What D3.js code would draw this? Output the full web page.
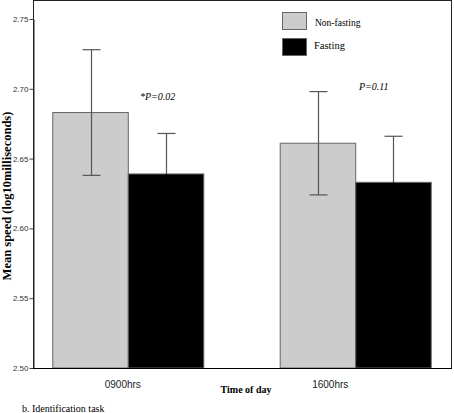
<!DOCTYPE html>
<html><head><meta charset="utf-8">
<script src="https://cdn.jsdelivr.net/npm/d3@7"></script>
<style>body{margin:0;background:#fff}svg{display:block}
.serif{font-family:"Liberation Serif","Times New Roman",serif}
.sans{font-family:"Liberation Sans",Arial,sans-serif}
</style>
</head><body>
<svg id="c" width="454" height="413"></svg>
<script>
const categories = ["0900hrs", "1600hrs"];
const seriesNames = ["Non-fasting", "Fasting"];
const nonFasting = [2.683, 2.661];
const nonFastingErr = [0.045, 0.037];
const fasting = [2.639, 2.633];
const fastingErr = [0.029, 0.033];
const yTicks = [2.50, 2.55, 2.60, 2.65, 2.70, 2.75];
const pLabels = ["*P=0.02", "P=0.11"];

(function(){
const svg = d3.select("#c");
const mLeft = 33, mRight = 451, mTop = 0, mBottom = 368;
const y = d3.scaleLinear().domain([2.5, 2.75]).range([mBottom, 19]);
const x = d3.scaleBand().domain(categories).range([mLeft, mRight]).paddingInner(0.336).paddingOuter(0.087);
const xs = d3.scaleBand().domain(seriesNames).range([0, x.bandwidth()]);
const colors = {"Non-fasting": "#cccccc", "Fasting": "#000000"};
const labelShift = {"0900hrs": -5.5, "1600hrs": -25.5};

const data = [];
categories.forEach((c, i) => {
  data.push({cat: c, s: "Non-fasting", v: nonFasting[i], e: nonFastingErr[i]});
  data.push({cat: c, s: "Fasting", v: fasting[i], e: fastingErr[i]});
});

// frame
svg.append("rect").attr("x", mLeft + 0.5).attr("y", mTop + 0.5)
  .attr("width", mRight - mLeft).attr("height", mBottom - mTop)
  .attr("fill", "none").attr("stroke", "#222").attr("stroke-width", 1);

// bars
svg.selectAll("rect.bar").data(data).join("rect").attr("class", "bar")
  .attr("x", d => x(d.cat) + xs(d.s))
  .attr("y", d => y(d.v))
  .attr("width", xs.bandwidth())
  .attr("height", d => y(2.5) - y(d.v))
  .attr("fill", d => colors[d.s])
  .attr("stroke", "#666").attr("stroke-width", 1);

// error bars
const eg = svg.append("g").attr("stroke-width", 1.2);
data.forEach(d => {
  const cx = Math.round(x(d.cat) + xs(d.s) + xs.bandwidth() / 2) + 0.5;
  const col = "#555";
  const lowCol = d.s === "Fasting" ? "#000" : "#555";
  eg.append("line").attr("x1", cx).attr("x2", cx).attr("y1", y(d.v + d.e)).attr("y2", y(d.v)).attr("stroke", col);
  eg.append("line").attr("x1", cx).attr("x2", cx).attr("y1", y(d.v)).attr("y2", y(d.v - d.e)).attr("stroke", lowCol);
  eg.append("line").attr("x1", cx - 9).attr("x2", cx + 9).attr("y1", y(d.v + d.e)).attr("y2", y(d.v + d.e)).attr("stroke", col);
  eg.append("line").attr("x1", cx - 9).attr("x2", cx + 9).attr("y1", y(d.v - d.e)).attr("y2", y(d.v - d.e)).attr("stroke", lowCol);
});

// y axis
const ya = svg.append("g").attr("transform", `translate(${mLeft + 0.5},0)`)
  .call(d3.axisLeft(y).tickValues(yTicks).tickFormat(d3.format(".2f")).tickSize(4).tickSizeOuter(0));
ya.attr("font-family", null);
ya.select(".domain").attr("stroke", "#222");
ya.selectAll(".tick line").attr("stroke", "#444");
ya.selectAll(".tick text").attr("class", "sans").attr("font-size", 8).attr("fill", "#333").attr("x", -5);

// x axis
svg.append("line").attr("x1", mLeft).attr("x2", mRight + 1).attr("y1", mBottom + 0.5).attr("y2", mBottom + 0.5).attr("stroke", "#000").attr("stroke-width", 1.2);
const xa = svg.append("g").attr("transform", `translate(0,${mBottom})`)
  .call(d3.axisBottom(x).tickSize(0));
xa.attr("font-family", null);
xa.select(".domain").remove();
xa.selectAll(".tick text").attr("class", "sans").attr("font-size", 10).attr("fill", "#222")
  .attr("dy", 0).attr("y", 20.3).attr("x", d => labelShift[d]);

// axis titles
svg.append("text").attr("class", "serif").attr("x", 246).attr("y", 393).attr("text-anchor", "middle")
  .attr("font-weight", "bold").attr("font-size", 10).text("Time of day");
svg.append("text").attr("class", "serif").attr("transform", "translate(10.5,196) rotate(-90)").attr("text-anchor", "middle")
  .attr("font-weight", "bold").attr("font-size", 12.5).text("Mean speed (log10milliseconds)");

// p labels
svg.append("text").attr("class", "serif").attr("x", 140).attr("y", 100).attr("font-style", "italic").attr("font-size", 10).text(pLabels[0]);
svg.append("text").attr("class", "serif").attr("x", 359).attr("y", 90).attr("font-style", "italic").attr("font-size", 10).text(pLabels[1]);

// legend
const lg = svg.append("g");
seriesNames.forEach((s, i) => {
  lg.append("rect").attr("x", 282.5).attr("y", 12.5 + i * 26).attr("width", 24).attr("height", 17)
    .attr("fill", colors[s]).attr("stroke", "#666").attr("stroke-width", 1);
  lg.append("text").attr("class", "serif").attr("x", i === 0 ? 315 : 314).attr("y", i === 0 ? 26 : 49)
    .attr("font-size", i === 0 ? 9.5 : 10.5).text(s);
});

// caption
svg.append("text").attr("class", "serif").attr("x", 22).attr("y", 412).attr("font-size", 10).text("b. Identification task");
})();
</script>
</body></html>
